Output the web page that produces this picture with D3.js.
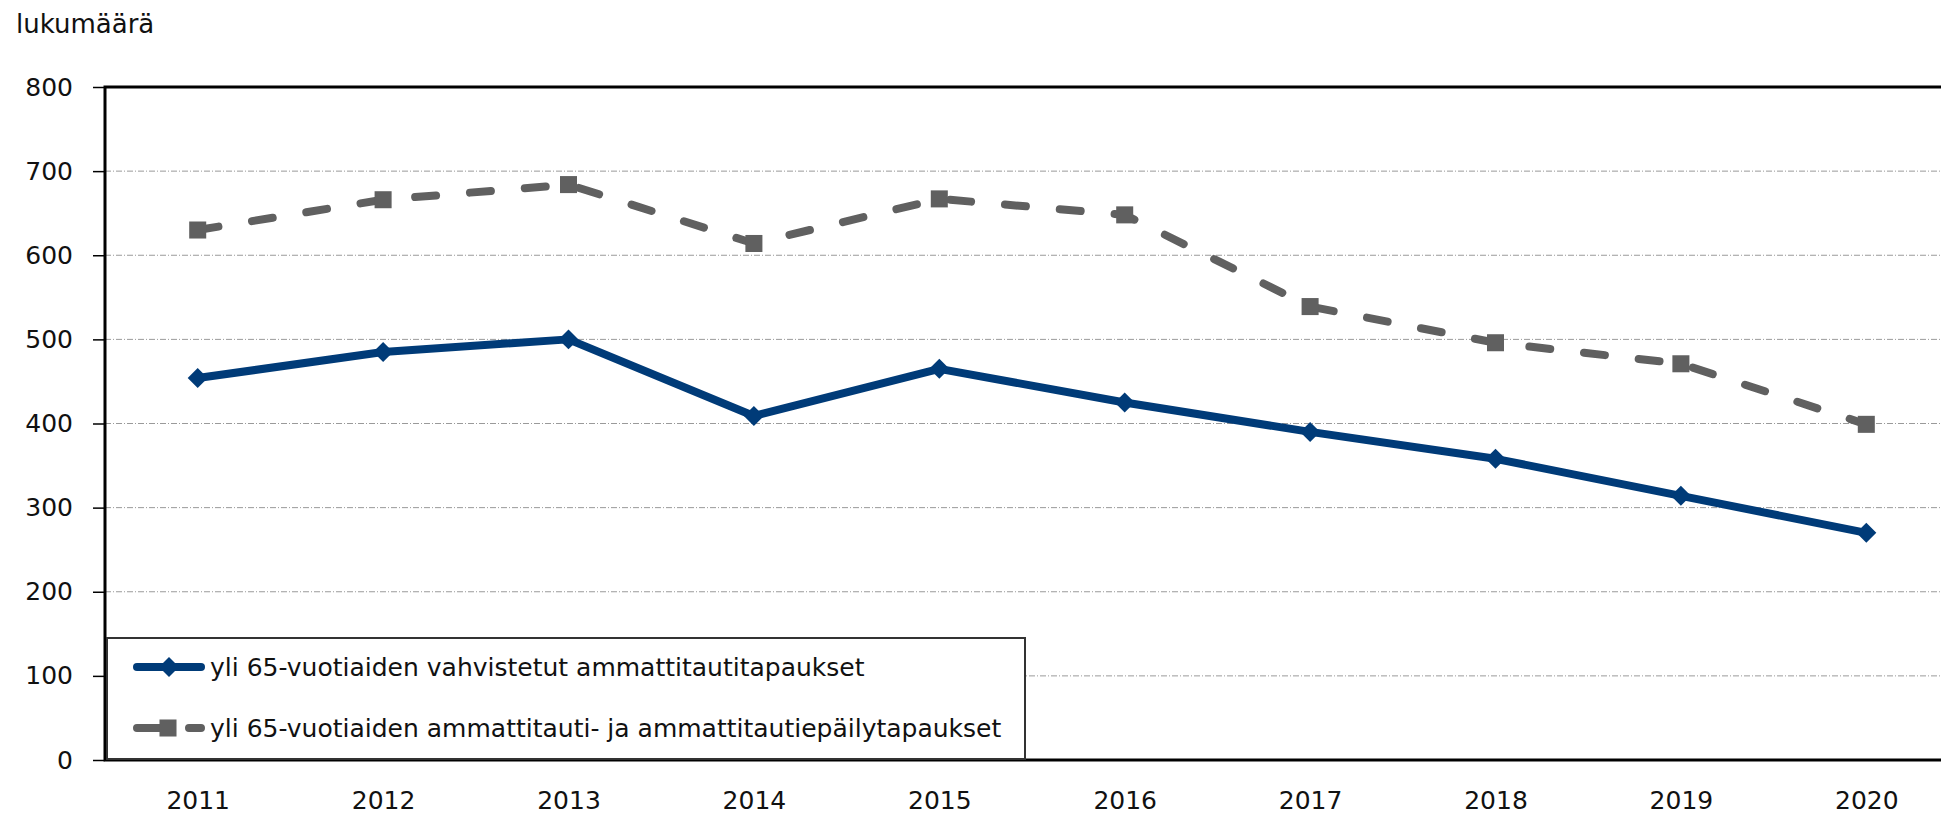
<!DOCTYPE html>
<html>
<head>
<meta charset="utf-8">
<script src="https://cdn.jsdelivr.net/npm/d3@7"></script>
<style>
    body { margin: 0; background: white; }
    svg { display: block; font-family: "DejaVu Sans", sans-serif; }
</style>
</head>
<body>
<div id="chart"></div>
<script>
// Line chart: occupational disease cases of people over 65, 2011-2020

// data
const years = ["2011", "2012", "2013", "2014", "2015", "2016", "2017", "2018", "2019", "2020"];
const confirmedCases = [454, 485, 500, 409, 465, 425, 390, 358, 314, 270];
const allCases = [630, 666, 684, 614, 667, 648, 539, 496, 471, 399];
const yTicks = [0, 100, 200, 300, 400, 500, 600, 700, 800];

const Y_AXIS_LABEL = "lukumäärä";
const LEGEND_CONFIRMED = "yli 65-vuotiaiden vahvistetut ammattitautitapaukset";
const LEGEND_ALL = "yli 65-vuotiaiden ammattitauti- ja ammattitautiepäilytapaukset";

const BLUE = "#003b78";
const GREY = "#606060";
const FONT_SIZE = 25;

// page size and plot area (right edge runs a bit past the window, like the original)
const W = 1941, H = 817;
const plot = {left: 105, top: 87, right: 1959, bottom: 760};

const svg = d3.select("#chart")
    .append("svg")
    .attr("width", W)
    .attr("height", H);

// scales
const x = d3.scalePoint()
    .domain(years)
    .range([plot.left, plot.right])
    .padding(0.5);

const y = d3.scaleLinear()
    .domain([0, 800])
    .range([plot.bottom, plot.top]);

// gridlines (dash-dot, light grey)
svg.append("g")
    .selectAll("line")
    .data(yTicks.filter(d => d > 0 && d < 800))
    .join("line")
    .attr("x1", plot.left)
    .attr("x2", plot.right)
    .attr("y1", d => y(d))
    .attr("y2", d => y(d))
    .attr("stroke", "#9a9a9a")
    .attr("stroke-width", 1)
    .attr("stroke-dasharray", "6,2,1,2");

// y axis with labels
const yAxis = svg.append("g")
    .attr("transform", `translate(${plot.left},0)`)
    .call(d3.axisLeft(y).tickValues(yTicks).tickSize(12).tickPadding(20))
    .attr("font-family", null)
    .attr("font-size", FONT_SIZE);
yAxis.select(".domain").remove();
yAxis.selectAll(".tick line").attr("stroke", "#000").attr("stroke-width", 1.5);
yAxis.selectAll(".tick text").attr("fill", "#111");

// x axis labels (no tick marks)
const xAxis = svg.append("g")
    .attr("transform", `translate(0,${plot.bottom})`)
    .call(d3.axisBottom(x).tickSize(0).tickPadding(31))
    .attr("font-family", null)
    .attr("font-size", FONT_SIZE);
xAxis.select(".domain").remove();
xAxis.selectAll(".tick text").attr("fill", "#111");

// plot frame
svg.append("rect")
    .attr("x", plot.left)
    .attr("y", plot.top)
    .attr("width", plot.right - plot.left)
    .attr("height", plot.bottom - plot.top)
    .attr("fill", "none")
    .attr("stroke", "#000")
    .attr("stroke-width", 3);

// axis title
svg.append("text")
    .attr("x", 16)
    .attr("y", 33)
    .attr("font-size", 26)
    .attr("fill", "#111")
    .text(Y_AXIS_LABEL);

// lines
const line = d3.line()
    .x((d, i) => x(years[i]))
    .y(d => y(d));

svg.append("path")
    .datum(allCases)
    .attr("d", line)
    .attr("fill", "none")
    .attr("stroke", GREY)
    .attr("stroke-width", 8)
    .attr("stroke-linecap", "round")
    .attr("stroke-dasharray", "21,34");

svg.append("path")
    .datum(confirmedCases)
    .attr("d", line)
    .attr("fill", "none")
    .attr("stroke", BLUE)
    .attr("stroke-width", 8)
    .attr("stroke-linejoin", "round");

// markers
const diamond = d3.symbol().type(d3.symbolSquare).size(200);
const square = d3.symbol().type(d3.symbolSquare).size(290);

svg.append("g")
    .selectAll("path")
    .data(allCases)
    .join("path")
    .attr("d", square)
    .attr("transform", (d, i) => `translate(${x(years[i])},${y(d)})`)
    .attr("fill", GREY);

svg.append("g")
    .selectAll("path")
    .data(confirmedCases)
    .join("path")
    .attr("d", diamond)
    .attr("transform", (d, i) => `translate(${x(years[i])},${y(d)}) rotate(45)`)
    .attr("fill", BLUE);

// legend box
const legend = svg.append("g");
legend.append("rect")
    .attr("x", 107)
    .attr("y", 638)
    .attr("width", 918)
    .attr("height", 121)
    .attr("fill", "white")
    .attr("stroke", "#333")
    .attr("stroke-width", 2);

// row 1: blue solid with diamond
legend.append("line")
    .attr("x1", 137).attr("x2", 201)
    .attr("y1", 667).attr("y2", 667)
    .attr("stroke", BLUE)
    .attr("stroke-width", 8)
    .attr("stroke-linecap", "round");
legend.append("path")
    .attr("d", diamond)
    .attr("transform", "translate(169,667) rotate(45)")
    .attr("fill", BLUE);
legend.append("text")
    .attr("x", 210)
    .attr("y", 667)
    .attr("dy", "0.35em")
    .attr("font-size", FONT_SIZE)
    .attr("fill", "#111")
    .text(LEGEND_CONFIRMED);

// row 2: grey dashed with square
legend.append("line")
    .attr("x1", 137).attr("x2", 201)
    .attr("y1", 728).attr("y2", 728)
    .attr("stroke", GREY)
    .attr("stroke-width", 8)
    .attr("stroke-linecap", "round")
    .attr("stroke-dasharray", "24,28");
legend.append("path")
    .attr("d", square)
    .attr("transform", "translate(168,728)")
    .attr("fill", GREY);
legend.append("text")
    .attr("x", 210)
    .attr("y", 728)
    .attr("dy", "0.35em")
    .attr("font-size", FONT_SIZE)
    .attr("fill", "#111")
    .text(LEGEND_ALL);
</script>
</body>
</html>
